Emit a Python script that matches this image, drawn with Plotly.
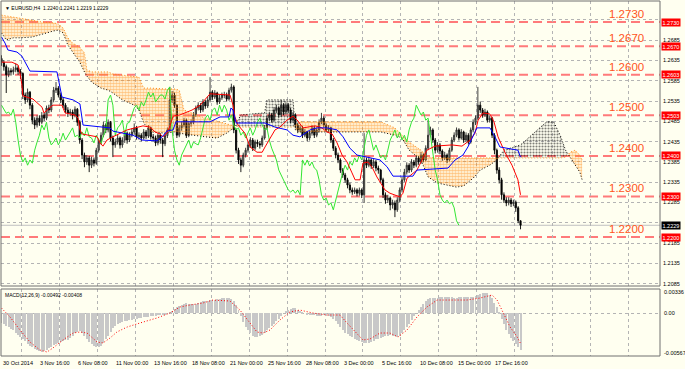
import plotly.graph_objects as go

# ---------------- data (prices in pips above 1.2000) ----------------
BASE = 1.2
first_open = 640
closes = [630,620,600,610,607,612,617,608,603,550,538,557,525,488,476,493,483,500,493,518,
          513,538,562,567,550,538,525,513,505,508,500,515,483,439,402,385,395,377,390,382,
          414,434,451,476,464,483,444,427,434,444,427,439,456,439,451,459,469,447,451,444,
          459,449,469,447,444,432,451,439,430,450,464,538,550,525,451,469,476,488,450,480,
          483,501,518,525,513,533,523,538,557,545,555,533,543,550,550,540,562,570,464,414,
          390,377,402,414,427,439,419,434,430,427,444,469,493,501,488,513,518,501,525,508,
          525,513,488,501,476,464,469,451,459,444,456,469,451,464,483,493,476,464,469,439,
          419,402,390,365,353,341,328,316,311,316,308,316,304,390,377,390,375,385,370,365,
          341,304,291,296,279,284,267,291,316,341,360,377,365,385,377,395,385,402,390,419,
          451,464,439,414,427,412,395,402,390,414,439,451,464,444,459,439,451,434,464,483,
          493,525,513,501,508,488,493,451,414,365,341,304,291,284,291,282,286,272,240,229]
highs = [648,636,625,618,616,620,628,622,614,606,556,566,560,530,495,500,500,508,506,524,
         526,545,570,582,572,556,544,530,520,516,514,522,518,488,444,408,402,400,398,396,
         420,440,458,484,480,490,486,450,442,452,448,446,462,460,458,468,480,474,458,456,
         466,464,476,472,454,450,456,456,444,456,470,570,560,556,528,476,484,494,492,486,
         490,508,524,532,530,540,538,546,594,562,562,558,550,556,558,556,568,578,574,468,
         420,396,408,420,434,446,444,440,440,436,450,476,500,508,506,520,526,522,538,530,
         532,530,518,508,505,482,476,474,466,462,462,476,474,470,490,506,498,480,476,472,
         444,424,408,394,370,358,346,334,322,322,320,322,320,456,396,398,394,392,390,376,
         368,346,310,304,300,292,290,298,322,348,368,384,382,392,390,402,400,410,406,426,
         488,472,468,444,434,432,416,410,406,420,446,458,470,468,466,462,458,456,470,490,
         500,570,534,518,516,512,500,496,456,418,372,346,310,298,298,296,292,290,276,241]
lows = [622,610,555,594,598,600,606,600,590,540,528,532,515,478,466,470,474,478,486,488,
        505,508,532,555,544,530,518,505,496,498,490,495,474,430,392,372,378,360,370,374,
        378,408,428,446,456,458,436,397,420,428,418,420,432,430,434,446,452,440,440,436,
        440,442,444,440,436,424,426,430,397,424,444,458,530,518,444,446,462,470,444,446,
        472,478,496,512,506,508,516,518,532,538,540,526,528,538,542,534,536,556,456,406,
        380,360,372,396,408,420,412,414,422,418,422,440,464,486,482,484,506,494,496,500,
        502,506,480,482,468,456,458,444,446,436,438,450,444,446,458,478,470,458,458,432,
        412,394,382,358,346,334,320,308,304,306,300,302,296,284,370,372,368,370,362,356,
        334,296,282,284,266,270,249,262,286,310,336,354,358,360,370,372,378,380,384,386,
        414,446,432,406,408,404,388,390,382,386,410,434,446,438,440,432,434,428,430,458,
        476,488,506,494,496,482,482,444,404,356,332,292,284,276,278,274,276,262,234,219]

tenkan_x = [0,4.4,7,7.8,8.6,9,13.3,15,17.1,17.9,21.7,25.5,26.8,31,32.3,33.1,34,40.3,41.6,42.8,
            44.5,47,50.8,53,59.7,62.7,64.8,66.9,68.1,69.8,71.1,72.4,75.3,78.3,80.4,83.8,86.7,88,
            96.4,97.7,98.5,99.8,102.7,104.9,107.8,110,111.2,113.3,115.4,117.5,120.5,123,125.1,
            127.2,132.3,135.2,137.3,139.5,141.6,143.7,145.8,147.9,149.2,151.3,152.5,154.6,156.3,
            158.4,161.8,163.9,166.9,168.1,169.4,171.1,175.3,179.5,182.9,190.1,194.3,197.7,199.8,
            201.1,203.2,206.1,207.8,209.5,212.4,215.4,217.9,219]
tenkan_p = [631,631,624,604,575,548,540,530,520,506,525,525,506,501,493,464,454,447,432,424,
            439,447,459,464,474,471,459,454,447,456,474,498,501,508,513,525,545,553,
            550,525,496,476,456,422,409,409,422,444,464,471,488,498,486,
            469,474,469,459,454,432,402,385,358,341,341,382,385,373,
            348,316,308,301,299,308,345,365,414,424,427,424,439,456,
            488,506,503,484,447,409,377,341,304]

kijun_x = [0,1.5,2.7,6.5,8.6,12,23.4,24.7,25.5,30.2,33.1,34.4,45.8,47,55.5,59.3,65.6,68.1,69.8,
           72.4,73.6,88,92.2,96,96.8,97.7,99,111.2,115.4,120.5,123,125.9,130.2,133.1,137.3,141.6,
           144.1,147,150,154.2,159.7,162.7,165.2,173.6,175.3,188.4,191.4,194.7,196.8,200.6,206.1,
           208.2,210.3,217.9,219]
kijun_p = [693,678,661,656,646,609,607,562,545,538,528,476,469,461,451,439,437,449,461,
           464,484,484,496,496,518,513,481,481,471,464,451,447,464,469,469,464,
           447,419,402,397,390,373,350,350,365,370,390,402,422,469,469,
           447,422,414,397]

cloud_x = [0,2,5,8,13,17,22,24,26,28,30,33,35,36,38,42,45,47,51,56,58,60,63,69,73,75,77,86,91,95,
           98,101,111,112,123,124,126,160,166,169,172,177,180,184,188,192,195,199,202,206,209,212,
           219,226,230,233,236,238,240,242,244,245]
span_a = [747,745,742,740,735,730,728,725,715,691,678,668,654,612,607,607,607,602,599,597,594,567,
          567,565,565,562,513,493,486,479,474,471,471,471,471,476,484,484,469,451,434,414,397,395,
          395,395,395,395,395,395,395,395,395,395,395,395,395,397,409,414,402,390]
span_b = [703,686,691,691,693,700,708,710,703,673,656,631,607,597,582,567,562,555,538,525,513,481,
          459,456,459,456,454,447,444,456,469,501,506,538,538,464,459,459,451,444,414,390,348,333,
          328,323,326,345,365,377,390,414,427,464,484,484,447,414,395,377,360,341]

macd_hist = [-130,-150,-170,-190,-210,-225,
             -260,-290,-320,-350,-380,-410,-440,
             -460,-480,-500,-515,-518,-510,-490,
             -470,-450,-430,-410,-395,-385,-375,-365,-355,
             -330,-300,-270,-250,-240,
             -270,-310,-350,-390,-420,-440,-450,-455,-440,
             -400,-350,-300,-250,-200,
             -170,-150,-130,-120,-110,-100,-95,-90,-80,-70,-65,
             -60,-55,-50,-45,-40,-35,-30,-25,-20,-15,-10,-5,5,
             30,60,80,100,110,125,135,
             130,125,120,130,140,150,160,165,170,175,180,
             185,190,195,200,205,205,200,190,170,
             110,40,-40,
             -120,-180,-230,-270,-300,-315,-320,-310,-290,
             -260,-230,-200,-170,-140,-110,-80,-40,
             0,30,50,60,70,65,50,30,
             10,0,-10,-15,-20,-25,-30,-35,-30,-25,-30,-40,-50,-70,
             -100,-140,-180,-220,-260,
             -280,-300,-320,-340,-360,-380,
             -390,-395,-400,-395,-385,-370,
             -350,-340,-330,-320,-310,-300,-295,-300,-310,-320,-300,-270,-230,-190,
             -140,-90,-40,0,
             40,80,120,160,190,205,
             210,210,210,215,215,215,215,215,215,210,210,215,220,220,215,215,220,225,235,245,260,
             270,275,270,250,200,
             140,80,10,
             -80,-150,-220,-280,-330,-380,-420,-460,-492]
signal_x = [0,3.6,7.8,12,16.2,19.2,21.7,25.9,30.2,33.1,36.1,40.3,42.8,45.8,48.7,53,58.4,65.6,71.1,
            75.3,79.5,85,89.2,96.4,100.6,104.9,107.8,110.3,113.3,117.5,121.7,125.9,131.4,137.3,
            142.8,145.8,150,152.5,155.5,159.7,163.9,167.3,171.1,175.3,179.5,183.8,189.2,196.4,
            201.9,207,209.1,211.6,214.6,217.6,219]
signal_v = [71,-50,-225,-387,-495,-522,-468,-360,-266,-252,-266,-387,-400,-333,-252,-185,-131,-63,4,
            85,112,139,179,166,44,-131,-252,-266,-225,-90,18,44,4,-23,
            -23,-131,-266,-360,-346,-266,-266,-320,-225,-50,85,179,179,179,
            206,247,179,4,-185,-320,-408]

levels = [1.2730, 1.2670, 1.2600, 1.2500, 1.2400, 1.2300, 1.2200]
level_text = ["1.2730", "1.2670", "1.2600", "1.2500", "1.2400", "1.2300", "1.2200"]
level_box_text = ["1.2730", "1.2670", "1.2603", "1.2503", "1.2400", "1.2300", "1.2200"]
last_price = 1.2229
date_labels = ["30 Oct 2014", "3 Nov 16:00", "6 Nov 08:00", "11 Nov 00:00", "13 Nov 16:00",
               "18 Nov 08:00", "21 Nov 00:00", "25 Nov 16:00", "28 Nov 08:00", "3 Dec 00:00",
               "5 Dec 16:00", "10 Dec 08:00", "15 Dec 00:00", "17 Dec 16:00"]
price_ticks = [1.2085 + 0.005 * k for k in range(15)]
hidden_tick_labels = ["1.2235", "1.2735"]   # covered by the price boxes in the original
title_text = "\u25BC EURUSD,H4  1.2240 1.2241 1.2219 1.2229"
macd_text = "MACD(12,26,9) -0.00492 -0.00408"
macd_top_label, macd_zero_label, macd_bot_label = "0.00336", "0.00", "-0.00567"

# ---------------- helpers ----------------
def P(v):
    return BASE + v / 10000.0

n = len(closes)
idx = list(range(n))
opens = [first_open] + closes[:-1]

W, H = 685, 369
ML, MR, MT, MB = 1, 25, 1, 13
PH = H - MT - MB
def py(px):
    return (H - MB - px) / PH

main_dom = [py(286), 1.0]
macd_dom = [0.0, py(289)]
PX_PER_BAR = 2.37
x_range = [(1 - 1.5) / PX_PER_BAR, (660 - 1.5) / PX_PER_BAR]
y_range = [1.2730 - 264 / 4057, 1.2730 + 21 / 4057]
m_range = [-0.00576, 0.00328]

BG = "#FFFFF0"
ORANGE = "#FF8A12"
FONT = "Liberation Sans, DejaVu Sans, Arial"

fig = go.Figure()

# ---- cloud ----
def cloud_runs(xs, a, b):
    runs = []
    cur = None
    for k in range(len(xs)):
        s = a[k] >= b[k]
        if cur is None:
            cur = dict(s=s, x=[xs[k]], a=[a[k]], b=[b[k]])
            continue
        if s != cur['s']:
            d0 = a[k - 1] - b[k - 1]
            d1 = a[k] - b[k]
            t = d0 / (d0 - d1)
            xc = xs[k - 1] + t * (xs[k] - xs[k - 1])
            yc = a[k - 1] + t * (a[k] - a[k - 1])
            cur['x'].append(xc); cur['a'].append(yc); cur['b'].append(yc)
            runs.append(cur)
            cur = dict(s=s, x=[xc, xs[k]], a=[yc, a[k]], b=[yc, b[k]])
        else:
            cur['x'].append(xs[k]); cur['a'].append(a[k]); cur['b'].append(b[k])
    runs.append(cur)
    return runs

for r in cloud_runs(cloud_x, span_a, span_b):
    col = ORANGE if r['s'] else "#000000"
    fig.add_trace(go.Scatter(
        x=r['x'] + r['x'][::-1],
        y=[P(v) for v in r['a']] + [P(v) for v in r['b'][::-1]],
        fill='toself', mode='none', fillcolor='rgba(0,0,0,0)',
        fillpattern=dict(shape='.', fgcolor=col, bgcolor='rgba(0,0,0,0)', size=3,
                         solidity=0.62 if r['s'] else 0.38),
        hoverinfo='skip', showlegend=False, xaxis='x', yaxis='y'))

fig.add_trace(go.Scatter(x=cloud_x, y=[P(v) for v in span_a], mode='lines',
                         line=dict(color=ORANGE, width=1, dash='1px,2px'), showlegend=False))
fig.add_trace(go.Scatter(x=cloud_x, y=[P(v) for v in span_b], mode='lines',
                         line=dict(color='#000000', width=1, dash='1px,2px'), showlegend=False))

# ---- candles ----
fig.add_trace(go.Candlestick(
    x=idx, open=[P(v) for v in opens], high=[P(v) for v in highs],
    low=[P(v) for v in lows], close=[P(v) for v in closes],
    increasing=dict(line=dict(color='#2a2a2a', width=0.9), fillcolor='#8f9585'),
    decreasing=dict(line=dict(color='#000000', width=0.9), fillcolor='#000000'),
    whiskerwidth=0, showlegend=False, xaxis='x', yaxis='y'))

# ---- ichimoku lines ----
fig.add_trace(go.Scatter(x=[i - 26 for i in idx[26:]], y=[P(v) for v in closes[26:]], mode='lines',
                         line=dict(color='#33E633', width=1), showlegend=False))
fig.add_trace(go.Scatter(x=tenkan_x, y=[P(v) for v in tenkan_p], mode='lines',
                         line=dict(color='#FF0000', width=1), showlegend=False))
fig.add_trace(go.Scatter(x=kijun_x, y=[P(v) for v in kijun_p], mode='lines',
                         line=dict(color='#0000FF', width=1), showlegend=False))

# ---- MACD ----
fig.add_trace(go.Bar(x=idx, y=[v / 1e5 for v in macd_hist], width=0.42,
                     marker=dict(color='#C8C8C8', line=dict(width=0)),
                     showlegend=False, xaxis='x2', yaxis='y2'))
fig.add_trace(go.Scatter(x=signal_x, y=[v / 1e5 for v in signal_v], mode='lines',
                         line=dict(color='#FF0000', width=1, dash='1px,2px'),
                         showlegend=False, xaxis='x2', yaxis='y2'))

# ---- shapes ----
shapes = []
shapes.append(dict(type='line', xref='paper', x0=0, x1=1, yref='y', y0=last_price, y1=last_price,
                   line=dict(color='#C0C0C0', width=1), layer='below'))
for lv in levels:
    shapes.append(dict(type='line', xref='paper', x0=0, x1=1, yref='y', y0=lv, y1=lv,
                       line=dict(color='#FF7A7A', width=2, dash='9px,5px'), layer='below'))
shapes.append(dict(type='rect', xref='paper', yref='paper', x0=0, x1=1, y0=main_dom[0], y1=1,
                   line=dict(color='#707070', width=1)))
shapes.append(dict(type='rect', xref='paper', yref='paper', x0=0, x1=1, y0=0, y1=macd_dom[1],
                   line=dict(color='#707070', width=1)))

# ---- annotations ----
ann = []
small = dict(family=FONT, size=5.5, color='#000000')
for lv, t in zip(levels, level_text):
    ann.append(dict(x=263.5, y=lv, xref='x', yref='y', text=t, showarrow=False,
                    xanchor='center', yanchor='bottom', yshift=0,
                    font=dict(family=FONT, size=11.5, color='#FF5522')))
for lv, t in zip(levels, level_box_text):
    ann.append(dict(x=1, y=lv, xref='paper', yref='y', text=t, showarrow=False,
                    xanchor='left', yanchor='middle', xshift=1, bgcolor='#FF0000', borderpad=0.5,
                    font=dict(family=FONT, size=5.5, color='#FFFFFF')))
ann.append(dict(x=1, y=last_price, xref='paper', yref='y', text=f"{last_price:.4f}", showarrow=False,
                xanchor='left', yanchor='middle', xshift=1, bgcolor='#000000', borderpad=0.5,
                font=dict(family=FONT, size=5.5, color='#FFFFFF')))
for k, t in enumerate(date_labels):
    ann.append(dict(x=16 * k, y=0, xref='x2', yref='paper', text=t, showarrow=False,
                    xanchor='left', yanchor='top', yshift=-2, xshift=-1, font=small))
ann.append(dict(x=0, y=1, xref='paper', yref='paper', text=title_text, showarrow=False,
                xanchor='left', yanchor='top', xshift=2, yshift=-2, font=dict(family=FONT, size=5, color='#000')))
ann.append(dict(x=0, y=macd_dom[1], xref='paper', yref='paper', text=macd_text, showarrow=False,
                xanchor='left', yanchor='top', xshift=2, yshift=-1, font=dict(family=FONT, size=5, color='#000')))
for t, yv in [(macd_top_label, m_range[1]), (macd_zero_label, 0.0), (macd_bot_label, m_range[0])]:
    ann.append(dict(x=1, y=yv, xref='paper', yref='y2', text=t, showarrow=False,
                    xanchor='left', yanchor='middle', xshift=2,
                    yshift=(-3 if yv == m_range[1] else (3 if yv == m_range[0] else 0)), font=small))

tick_text = []
for v in price_ticks:
    s = f"{v:.4f}"
    tick_text.append("" if s in hidden_tick_labels else s)

grid_x = [8.5 + 16 * k for k in range(18)]
fig.update_layout(
    width=W, height=H, margin=dict(l=ML, r=MR, t=MT, b=MB),
    paper_bgcolor=BG, plot_bgcolor=BG, showlegend=False, bargap=0,
    xaxis=dict(domain=[0, 1], range=x_range, anchor='y', tickvals=grid_x, showticklabels=False,
               showgrid=True, gridcolor='#B4B4B4', griddash='dot', gridwidth=1, zeroline=False,
               showline=False, ticks='', rangeslider=dict(visible=False)),
    xaxis2=dict(domain=[0, 1], range=x_range, anchor='y2', matches='x', tickvals=grid_x,
                showticklabels=False, showgrid=True, gridcolor='#B4B4B4', griddash='dot',
                zeroline=False, showline=False, ticks=''),
    yaxis=dict(domain=main_dom, range=y_range, side='right', tickvals=price_ticks,
               ticktext=tick_text, tickfont=small, showgrid=True,
               gridcolor='#B4B4B4', griddash='dot', zeroline=False, showline=False, ticks='',
               ticklabelstandoff=2),
    yaxis2=dict(domain=macd_dom, range=m_range, side='right', tickvals=[0.0], showticklabels=False,
                showgrid=True, gridcolor='#B4B4B4', griddash='dot', zeroline=False, showline=False,
                ticks=''),
    shapes=shapes, annotations=ann,
)

fig.write_html("out.html", config={"displayModeBar": False},
               post_script="document.body.style.margin='0';document.body.style.padding='0';"
                           "document.body.style.overflow='hidden';"
                           "document.body.style.background='" + BG + "';")
